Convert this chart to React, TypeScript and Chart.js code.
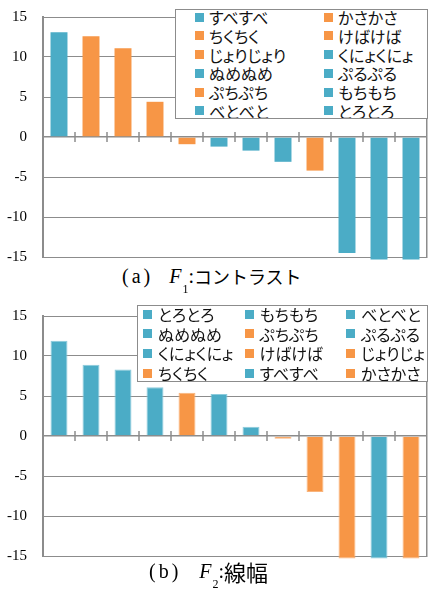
import React, { useEffect, useRef } from 'react';
import { Chart, registerables } from 'chart.js';
Chart.register(...registerables);

// ---- data ----
const labelsA = ['すべすべ', 'かさかさ', 'ちくちく', 'けばけば', 'じょりじょり', 'くにょくにょ', 'ぬめぬめ', 'ぷるぷる', 'ぷちぷち', 'もちもち', 'べとべと', 'とろとろ'];
const valuesA = [13.1, 12.6, 11.1, 4.4, -0.9, -1.2, -1.7, -3.1, -4.2, -14.5, -15.3, -15.3];

const labelsB = ['とろとろ', 'もちもち', 'べとべと', 'ぬめぬめ', 'ぷちぷち', 'ぷるぷる', 'くにょくにょ', 'けばけば', 'じょりじょり', 'ちくちく', 'すべすべ', 'かさかさ'];
const valuesB = [11.9, 8.9, 8.3, 6.1, 5.4, 5.25, 1.15, -0.35, -7.0, -15.3, -15.3, -15.3];

// words drawn in the second (orange) colour
const orangeWords = ['かさかさ', 'ちくちく', 'けばけば', 'じょりじょり', 'ぷちぷち'];

const yMin = -15;
const yMax = 15;
const yStep = 5;

const captionA = { tag: '(a)', sub: '1', rest: 'コントラスト' };
const captionB = { tag: '(b)', sub: '2', rest: '線幅' };

// ---- styles ----
const TEAL = '#4BACC6';
const ORANGE = '#F79646';
const TEAL_EDGE = '#8ccbdc';
const ORANGE_EDGE = '#f9b47c';
const GRID = '#8c8c8c';

const colorOf = (w: string) => (orangeWords.includes(w) ? ORANGE : TEAL);
const edgeOf = (w: string) => (orangeWords.includes(w) ? ORANGE_EDGE : TEAL_EDGE);

const tickPlugin = {
  id: 'catTicks',
  afterDraw(chart: any) {
    const xs = chart.scales.x;
    const ys = chart.scales.y;
    const n = chart.data.labels.length;
    const ctx = chart.ctx;
    const y0 = ys.getPixelForValue(0);
    ctx.save();
    ctx.strokeStyle = GRID;
    ctx.lineWidth = 1.5;
    for (let i = 1; i < n; i++) {
      const px = Math.round((xs.getPixelForValue(i - 1) + xs.getPixelForValue(i)) / 2);
      ctx.beginPath();
      ctx.moveTo(px, y0 - 5);
      ctx.lineTo(px, y0 + 5);
      ctx.stroke();
    }
    ctx.restore();
  },
};

function BarPanel({ labels, values, bordered, top }: any) {
  const ref = useRef<HTMLCanvasElement | null>(null);
  useEffect(() => {
    const chart = new Chart(ref.current as HTMLCanvasElement, {
      type: 'bar',
      data: {
        labels,
        datasets: [
          {
            data: values,
            backgroundColor: labels.map(colorOf),
            borderColor: labels.map(edgeOf),
            borderWidth: bordered ? 1 : 0,
            barPercentage: 0.53,
            categoryPercentage: 1,
            clip: false as any,
          },
        ],
      },
      options: {
        animation: false,
        responsive: false,
        maintainAspectRatio: false,
        devicePixelRatio: 1,
        layout: { padding: { top: 17, right: 6, bottom: 6, left: 0 } },
        plugins: { legend: { display: false }, tooltip: { enabled: false } },
        scales: {
          x: { display: false, offset: true },
          y: {
            min: yMin,
            max: yMax,
            afterFit: (s: any) => {
              s.width = 43;
              s.paddingTop = 0;
              s.paddingBottom = 0;
            },
            ticks: {
              stepSize: yStep,
              font: { family: '"Liberation Serif"', size: 15 },
              color: '#000',
              padding: 16,
            },
            grid: {
              color: GRID,
              lineWidth: (c: any) => (c.tick && c.tick.value === 0 ? 1.5 : 1),
              drawTicks: false,
            },
            border: { color: GRID, width: 2 },
          },
          y2: {
            position: 'right',
            display: true,
            afterFit: (s: any) => {
              s.width = 0;
            },
            ticks: { display: false },
            grid: { display: false, drawTicks: false },
            border: { color: GRID, width: 1.5 },
          },
        },
      } as any,
      plugins: [tickPlugin],
    });
    return () => chart.destroy();
  }, []);
  return (
    <canvas
      ref={ref}
      width={433}
      height={263}
      style={{ position: 'absolute', left: 0, top, width: 433, height: 263 }}
    />
  );
}

function Legend({ labels, cols, left, top, width, height, padLeft, colW, firstCenter, rowH, gap }: any) {
  return (
    <div
      style={{
        position: 'absolute',
        left,
        top,
        width,
        height,
        boxSizing: 'border-box',
        border: `1px solid ${GRID}`,
        background: '#fff',
        overflow: 'hidden',
      }}
    >
      {labels.map((w: string, i: number) => {
        const row = Math.floor(i / cols);
        const col = i % cols;
        return (
          <div
            key={w}
            style={{
              position: 'absolute',
              left: padLeft + col * colW - 1,
              top: firstCenter + row * rowH - rowH / 2 - 1,
              height: rowH,
              display: 'flex',
              alignItems: 'center',
              whiteSpace: 'nowrap',
            }}
          >
            <span style={{ width: 9, height: 9, background: colorOf(w), marginRight: gap, flex: 'none' }} />
            <span
              style={{
                fontFamily: '"Noto Sans CJK JP"',
                fontSize: 16,
                lineHeight: 1,
                fontFeatureSettings: '"palt"',
                color: '#111',
              }}
            >
              {w}
            </span>
          </div>
        );
      })}
    </div>
  );
}

function Caption({ c, top, left, fGap, cjkSize }: any) {
  return (
    <div
      style={{
        position: 'absolute',
        left,
        top,
        height: 24,
        display: 'flex',
        alignItems: 'center',
        fontFamily: '"Liberation Serif"',
        fontSize: 20,
        lineHeight: '24px',
        color: '#000',
        whiteSpace: 'nowrap',
      }}
    >
      <span style={{ letterSpacing: 3 }}>{c.tag}</span>
      <i style={{ marginLeft: fGap }}>F</i>
      <span style={{ fontSize: 12, position: 'relative', top: 13, marginLeft: 1 }}>{c.sub}</span>
      <span>:</span>
      <span style={{ fontFamily: '"Noto Sans CJK JP"', fontSize: cjkSize }}>{c.rest}</span>
    </div>
  );
}

export default function App() {
  return (
    <div
      style={{
        position: 'absolute',
        left: 0,
        top: 0,
        width: 433,
        height: 589,
        background: '#fff',
        overflow: 'hidden',
      }}
    >
      <BarPanel labels={labelsA} values={valuesA} bordered={false} top={0} />
      <BarPanel labels={labelsB} values={valuesB} bordered={true} top={299} />
      <Legend
        labels={labelsA}
        cols={2}
        left={175}
        top={9}
        width={253}
        height={110}
        padLeft={20}
        colW={129}
        firstCenter={8}
        rowH={18.8}
        gap={5}
      />
      <Caption c={captionA} top={264} left={122} fGap={16} cjkSize={18} />
      <Legend
        labels={labelsB}
        cols={3}
        left={137}
        top={305}
        width={291}
        height={77}
        padLeft={6}
        colW={101.5}
        firstCenter={9}
        rowH={19.7}
        gap={6}
      />
      <Caption c={captionB} top={559} left={149} fGap={18} cjkSize={22} />
    </div>
  );
}
